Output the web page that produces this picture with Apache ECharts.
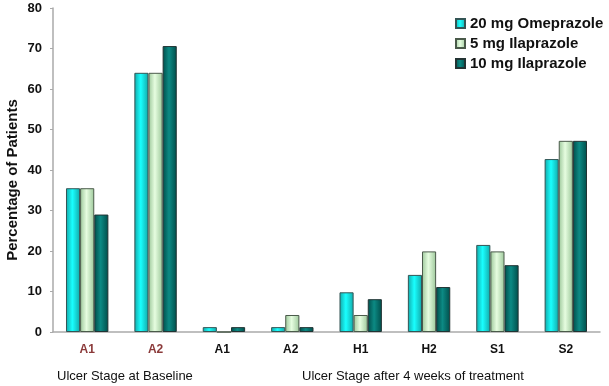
<!DOCTYPE html>
<html>
<head>
<meta charset="utf-8">
<script src="https://cdn.jsdelivr.net/npm/echarts@6/dist/echarts.min.js"></script>
<style>
  html, body { margin: 0; padding: 0; background: #fff; }
  #chart { width: 609px; height: 386px; }
</style>
</head>
<body>
<div id="chart"></div>
<script>
// categories: first two are baseline stages, the rest after 4 weeks
var stages = ['A1', 'A2', 'A1 ', 'A2 ', 'H1', 'H2', 'S1', 'S2'];
var seriesNames = ['20 mg Omeprazole', '5 mg Ilaprazole', '10 mg Ilaprazole'];
var omeprazole20 = [35.5, 64, 1.2, 1.2, 9.8, 14.1, 21.5, 42.7];
var ilaprazole5 = [35.5, 64, 0, 4.2, 4.2, 19.9, 19.9, 47.2];
var ilaprazole10 = [29, 70.6, 1.2, 1.2, 8.1, 11.1, 16.5, 47.2];
var yTicks = [0, 10, 20, 30, 40, 50, 60, 70, 80];

function shade(edge, mid) {
    return new echarts.graphic.LinearGradient(0, 0, 1, 0, [
        { offset: 0, color: edge },
        { offset: 0.45, color: mid },
        { offset: 1, color: edge }
    ]);
}

var chart = echarts.init(document.getElementById('chart'));
var font = 'Liberation Sans, Arial, sans-serif';

var option = {
    animation: false,
    backgroundColor: '#fff',
    grid: { left: 53, right: 9, top: 8, bottom: 54, containLabel: false, outerBoundsMode: 'none' },
    legend: {
        orient: 'vertical',
        left: 450,
        top: 11,
        itemWidth: 9,
        itemHeight: 9,
        itemGap: 5,
        icon: 'rect',
        data: seriesNames,
        textStyle: { fontFamily: font, fontWeight: 'bold', fontSize: 15, color: '#111' }
    },
    xAxis: {
        type: 'category',
        data: stages,
        axisLine: { lineStyle: { color: '#aaa', width: 1.5 } },
        axisTick: { show: false },
        axisLabel: {
            margin: 12,
            fontFamily: font,
            fontWeight: 'bold',
            fontSize: 12,
            color: function (v, i) { return i < 2 ? '#8b3a3a' : '#111'; }
        }
    },
    yAxis: {
        type: 'value',
        min: yTicks[0],
        max: yTicks[yTicks.length - 1],
        interval: 10,
        axisLine: { show: true, lineStyle: { color: '#aaa', width: 1.5 } },
        axisTick: { show: true, length: 3, lineStyle: { color: '#aaa' } },
        splitLine: { show: false },
        axisLabel: { margin: 11, fontFamily: font, fontWeight: 'bold', fontSize: 13, color: '#111' }
    },
    graphic: [
        {
            type: 'text', x: 13, y: 180, rotation: Math.PI / 2,
            style: { text: 'Percentage of Patients', font: 'bold 15px ' + font, fill: '#111', align: 'center', verticalAlign: 'middle' }
        },
        { type: 'text', left: 57, top: 370, style: { text: 'Ulcer Stage at Baseline', font: '13px ' + font, fill: '#111' } },
        { type: 'text', left: 302, top: 370, style: { text: 'Ulcer Stage after 4 weeks of treatment', font: '13px ' + font, fill: '#111' } }
    ],
    series: [
        {
            name: seriesNames[0], type: 'bar', data: omeprazole20,
            barGap: '0%', barCategoryGap: '38%',
            itemStyle: { color: shade('#12a8a8', '#19ffff'), borderColor: '#335555', borderWidth: 1 }
        },
        {
            name: seriesNames[1], type: 'bar', data: ilaprazole5,
            itemStyle: { color: shade('#9cc79a', '#e6fde0'), borderColor: '#4a5a4a', borderWidth: 1 }
        },
        {
            name: seriesNames[2], type: 'bar', data: ilaprazole10,
            itemStyle: { color: shade('#004d4a', '#0c8a84'), borderColor: '#223333', borderWidth: 1 }
        }
    ]
};
chart.setOption(option);
</script>
</body>
</html>
